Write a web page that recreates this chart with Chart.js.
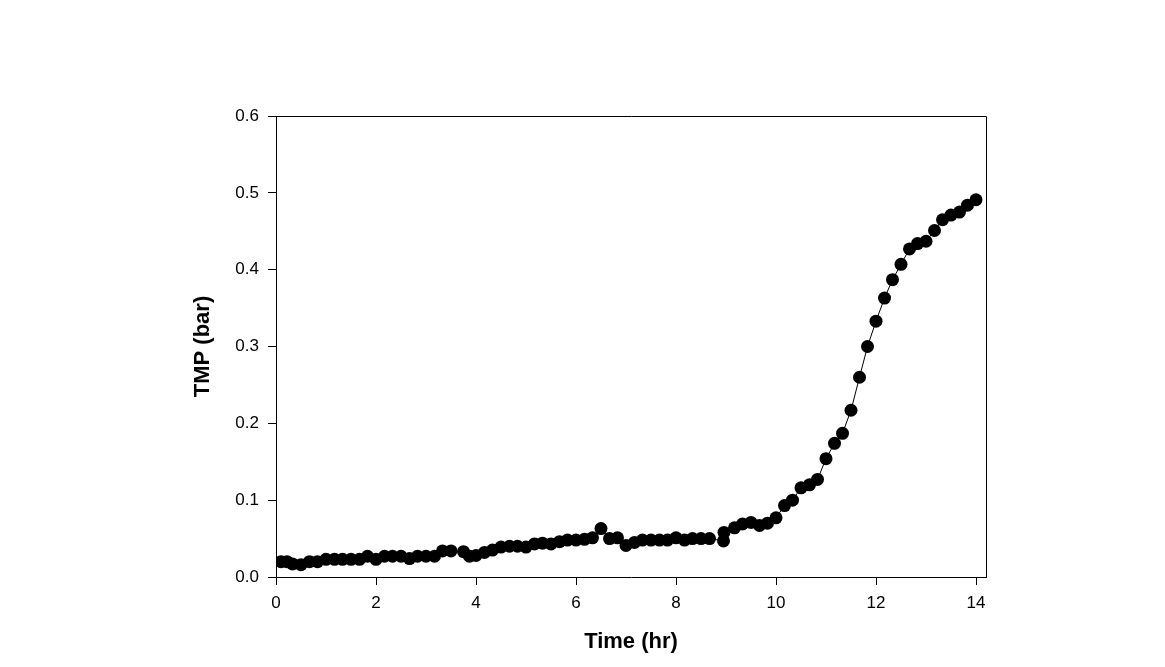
<!DOCTYPE html>
<html>
<head>
<meta charset="utf-8">
<title>TMP vs Time</title>
<script src="https://cdn.jsdelivr.net/npm/chart.js@4.4.1/dist/chart.umd.min.js"></script>
<style>
  html, body { margin: 0; padding: 0; background: #fff; }
  #wrap { width: 1165px; height: 667px; position: relative; }
</style>
</head>
<body>
<div id="wrap"><canvas id="tmpChart"></canvas></div>
<script>
/* ---- datos ---- */
const timeHr = [
  0.1, 0.22, 0.33, 0.5, 0.67, 0.83, 1.0, 1.17, 1.33, 1.5, 1.67, 1.83,
  2.0, 2.17, 2.33, 2.5, 2.67, 2.83, 3.0, 3.17, 3.33, 3.5, 3.75, 3.87,
  4.0, 4.17, 4.33, 4.5, 4.67, 4.83, 5.0, 5.17, 5.33, 5.5, 5.67, 5.83,
  6.0, 6.17, 6.33, 6.5, 6.67, 6.83, 7.0, 7.17, 7.33, 7.5, 7.67, 7.83,
  8.0, 8.17, 8.33, 8.5, 8.67, 8.95, 8.96, 9.17, 9.33, 9.5, 9.67, 9.83,
  10.0, 10.17, 10.33, 10.5, 10.67, 10.83, 11.0, 11.17, 11.33, 11.5, 11.67, 11.83,
  12.0, 12.17, 12.33, 12.5, 12.67, 12.83, 13.0, 13.17, 13.33, 13.5, 13.67, 13.83,
  14.0
];
const tmpBar = [
  0.020, 0.020, 0.017, 0.016, 0.020, 0.020, 0.023, 0.023, 0.023, 0.023, 0.023, 0.027,
  0.023, 0.027, 0.027, 0.027, 0.024, 0.027, 0.027, 0.027, 0.034, 0.034, 0.033, 0.027,
  0.028, 0.032, 0.035, 0.039, 0.040, 0.040, 0.039, 0.043, 0.044, 0.043, 0.046, 0.048,
  0.048, 0.049, 0.051, 0.063, 0.050, 0.051, 0.041, 0.045, 0.048, 0.048, 0.048, 0.048,
  0.051, 0.048, 0.050, 0.050, 0.050, 0.047, 0.058, 0.064, 0.069, 0.071, 0.067, 0.070,
  0.077, 0.093, 0.100, 0.116, 0.120, 0.127, 0.154, 0.174, 0.187, 0.217, 0.260, 0.300,
  0.333, 0.363, 0.387, 0.407, 0.427, 0.434, 0.437, 0.451, 0.465, 0.471, 0.475, 0.484,
  0.491
];
const xTicks = [0, 2, 4, 6, 8, 10, 12, 14];
const yTicks = [0.0, 0.1, 0.2, 0.3, 0.4, 0.5, 0.6];

/* ---- marco superior y derecho ---- */
const framePlugin = {
  id: 'frame',
  beforeDatasetsDraw(chart) {
    const { ctx, chartArea: a } = chart;
    ctx.save();
    ctx.strokeStyle = '#000';
    ctx.lineWidth = 1;
    ctx.beginPath();
    ctx.moveTo(a.left, a.top + 0.5);
    ctx.lineTo(a.right + 0.5, a.top + 0.5);
    ctx.lineTo(a.right + 0.5, a.bottom);
    ctx.stroke();
    ctx.restore();
  }
};

const tickFont = { family: 'Liberation Sans, Arial, sans-serif', size: 17 };
const titleFont = { family: 'Liberation Sans, Arial, sans-serif', size: 22, weight: 'bold' };

new Chart(document.getElementById('tmpChart').getContext('2d'), {
  type: 'scatter',
  data: {
    datasets: [{
      label: 'TMP',
      data: timeHr.map((t, i) => ({ x: t, y: tmpBar[i] })),
      showLine: true,
      borderColor: '#000',
      borderWidth: 1,
      backgroundColor: '#000',
      pointRadius: 6.5,
      pointBorderWidth: 0,
      pointHoverRadius: 6.5
    }]
  },
  options: {
    responsive: true,
    maintainAspectRatio: false,
    animation: false,
    devicePixelRatio: 1,
    layout: { padding: { left: 188, right: 179, top: 116, bottom: 12 } },
    plugins: { legend: { display: false }, tooltip: { enabled: false } },
    scales: {
      x: {
        type: 'linear',
        min: 0,
        max: 14.2,
        afterBuildTicks: axis => { axis.ticks = xTicks.map(v => ({ value: v })); },
        afterFit: axis => { axis.height = 78; },
        grid: { drawOnChartArea: false, drawTicks: true, tickLength: 8, color: '#000' },
        border: { display: true, color: '#000', width: 1 },
        ticks: { color: '#000', font: tickFont, padding: 8, maxRotation: 0, callback: v => String(v) },
        title: { display: true, text: 'Time (hr)', color: '#000', font: titleFont, padding: { top: 0, bottom: 0 } }
      },
      y: {
        type: 'linear',
        min: 0,
        max: 0.6,
        afterBuildTicks: axis => { axis.ticks = yTicks.map(v => ({ value: v })); },
        afterFit: axis => { axis.width = 88; },
        grid: { drawOnChartArea: false, drawTicks: true, tickLength: 8, color: '#000' },
        border: { display: true, color: '#000', width: 1 },
        ticks: { color: '#000', font: tickFont, padding: 9, callback: v => Number(v).toFixed(1) },
        title: { display: true, text: 'TMP (bar)', color: '#000', font: titleFont, padding: { top: 2, bottom: 0 } }
      }
    }
  },
  plugins: [framePlugin]
});
</script>
</body>
</html>
